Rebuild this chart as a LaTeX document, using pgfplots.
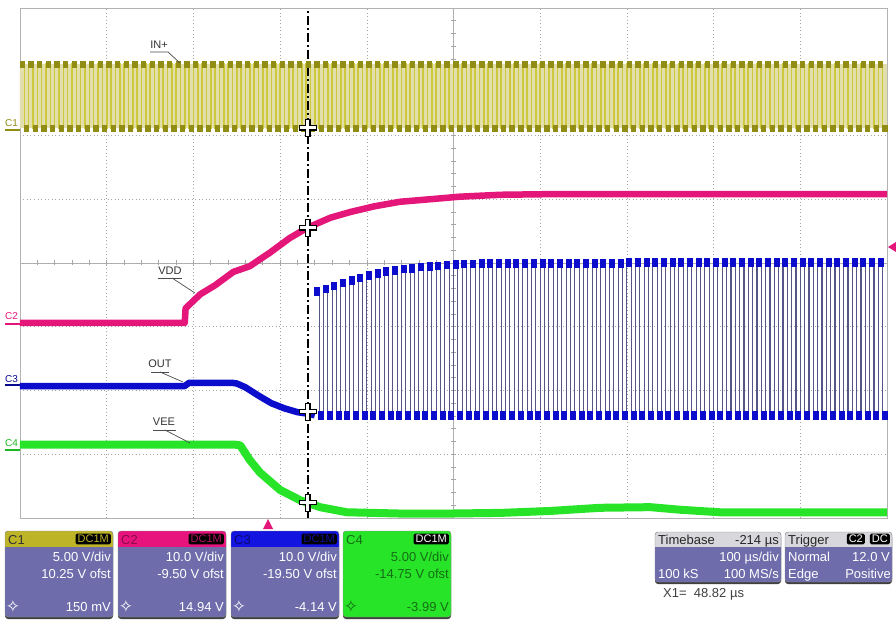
\documentclass[border=0pt]{standalone}
\usepackage{fontspec}
\setmainfont{Liberation Sans}
\newfontfamily\symfont{DejaVu Sans}
\usepackage{pgfplots}
\pgfplotsset{compat=1.18}
\usepackage{pgfplotstable}

\definecolor{c1y}{RGB}{205,200,60}
\definecolor{c1d}{RGB}{145,140,20}
\definecolor{c1band}{RGB}{226,223,172}
\definecolor{c2m}{RGB}{228,22,122}
\definecolor{c3b}{RGB}{12,12,205}
\definecolor{c3e}{RGB}{85,85,135}
\definecolor{c4g}{RGB}{40,228,40}
\definecolor{c4d}{RGB}{20,110,20}
\definecolor{panel}{RGB}{110,108,170}
\definecolor{hdrCa}{RGB}{190,180,40}
\definecolor{hdrCb}{RGB}{232,20,125}
\definecolor{hdrCc}{RGB}{20,20,225}
\definecolor{hdrgray}{RGB}{215,215,220}

\newcommand{\pf}{\fontsize{13}{15}\selectfont}
\newcommand{\lf}{\fontsize{11}{13}\selectfont}

% IN+ (C1), divisions
\pgfplotstableread[row sep=\\]{
x y\\
0 3.12\\ 0.05 2.12\\ 0.1 3.12\\ 0.15 2.12\\ 0.2 3.12\\ 0.25 2.12\\ 0.3 3.12\\ 0.35 2.12\\ 0.4 3.12\\ 0.45 2.12\\
0.5 3.12\\ 0.55 2.12\\ 0.6 3.12\\ 0.65 2.12\\ 0.7 3.12\\ 0.75 2.12\\ 0.8 3.12\\ 0.85 2.12\\ 0.9 3.12\\ 0.95 2.12\\
1.0 3.12\\ 1.05 2.12\\ 1.1 3.12\\ 1.15 2.12\\ 1.2 3.12\\ 1.25 2.12\\ 1.3 3.12\\ 1.35 2.12\\ 1.4 3.12\\ 1.45 2.12\\
1.5 3.12\\ 1.55 2.12\\ 1.6 3.12\\ 1.65 2.12\\ 1.7 3.12\\ 1.75 2.12\\ 1.8 3.12\\ 1.85 2.12\\ 1.9 3.12\\ 1.95 2.12\\
2.0 3.12\\ 2.05 2.12\\ 2.1 3.12\\ 2.15 2.12\\ 2.2 3.12\\ 2.25 2.12\\ 2.3 3.12\\ 2.35 2.12\\ 2.4 3.12\\ 2.45 2.12\\
2.5 3.12\\ 2.55 2.12\\ 2.6 3.12\\ 2.65 2.12\\ 2.7 3.12\\ 2.75 2.12\\ 2.8 3.12\\ 2.85 2.12\\ 2.9 3.12\\ 2.95 2.12\\
3.0 3.12\\ 3.05 2.12\\ 3.1 3.12\\ 3.15 2.12\\ 3.2 3.12\\ 3.25 2.12\\ 3.3 3.12\\ 3.35 2.12\\ 3.4 3.12\\ 3.45 2.12\\
3.5 3.12\\ 3.55 2.12\\ 3.6 3.12\\ 3.65 2.12\\ 3.7 3.12\\ 3.75 2.12\\ 3.8 3.12\\ 3.85 2.12\\ 3.9 3.12\\ 3.95 2.12\\
4.0 3.12\\ 4.05 2.12\\ 4.1 3.12\\ 4.15 2.12\\ 4.2 3.12\\ 4.25 2.12\\ 4.3 3.12\\ 4.35 2.12\\ 4.4 3.12\\ 4.45 2.12\\
4.5 3.12\\ 4.55 2.12\\ 4.6 3.12\\ 4.65 2.12\\ 4.7 3.12\\ 4.75 2.12\\ 4.8 3.12\\ 4.85 2.12\\ 4.9 3.12\\ 4.95 2.12\\
5.0 3.12\\ 5.05 2.12\\ 5.1 3.12\\ 5.15 2.12\\ 5.2 3.12\\ 5.25 2.12\\ 5.3 3.12\\ 5.35 2.12\\ 5.4 3.12\\ 5.45 2.12\\
5.5 3.12\\ 5.55 2.12\\ 5.6 3.12\\ 5.65 2.12\\ 5.7 3.12\\ 5.75 2.12\\ 5.8 3.12\\ 5.85 2.12\\ 5.9 3.12\\ 5.95 2.12\\
6.0 3.12\\ 6.05 2.12\\ 6.1 3.12\\ 6.15 2.12\\ 6.2 3.12\\ 6.25 2.12\\ 6.3 3.12\\ 6.35 2.12\\ 6.4 3.12\\ 6.45 2.12\\
6.5 3.12\\ 6.55 2.12\\ 6.6 3.12\\ 6.65 2.12\\ 6.7 3.12\\ 6.75 2.12\\ 6.8 3.12\\ 6.85 2.12\\ 6.9 3.12\\ 6.95 2.12\\
7.0 3.12\\ 7.05 2.12\\ 7.1 3.12\\ 7.15 2.12\\ 7.2 3.12\\ 7.25 2.12\\ 7.3 3.12\\ 7.35 2.12\\ 7.4 3.12\\ 7.45 2.12\\
7.5 3.12\\ 7.55 2.12\\ 7.6 3.12\\ 7.65 2.12\\ 7.7 3.12\\ 7.75 2.12\\ 7.8 3.12\\ 7.85 2.12\\ 7.9 3.12\\ 7.95 2.12\\
8.0 3.12\\ 8.05 2.12\\ 8.1 3.12\\ 8.15 2.12\\ 8.2 3.12\\ 8.25 2.12\\ 8.3 3.12\\ 8.35 2.12\\ 8.4 3.12\\ 8.45 2.12\\
8.5 3.12\\ 8.55 2.12\\ 8.6 3.12\\ 8.65 2.12\\ 8.7 3.12\\ 8.75 2.12\\ 8.8 3.12\\ 8.85 2.12\\ 8.9 3.12\\ 8.95 2.12\\
9.0 3.12\\ 9.05 2.12\\ 9.1 3.12\\ 9.15 2.12\\ 9.2 3.12\\ 9.25 2.12\\ 9.3 3.12\\ 9.35 2.12\\ 9.4 3.12\\ 9.45 2.12\\
9.5 3.12\\ 9.55 2.12\\ 9.6 3.12\\ 9.65 2.12\\ 9.7 3.12\\ 9.75 2.12\\ 9.8 3.12\\ 9.85 2.12\\ 9.9 3.12\\ 9.95 2.12\\
}\inplus

% OUT (C3) switching part
\pgfplotstableread[row sep=\\]{
x y\\
3.4 -0.44\\ 3.45 -2.39\\ 3.5 -0.40\\ 3.55 -2.39\\ 3.6 -0.36\\ 3.65 -2.39\\ 3.7 -0.31\\ 3.75 -2.39\\ 3.8 -0.27\\ 3.85 -2.39\\
3.9 -0.23\\ 3.95 -2.39\\ 4.0 -0.19\\ 4.05 -2.39\\ 4.1 -0.16\\ 4.15 -2.39\\ 4.2 -0.13\\ 4.25 -2.39\\ 4.3 -0.11\\ 4.35 -2.39\\
4.4 -0.09\\ 4.45 -2.39\\ 4.5 -0.08\\ 4.55 -2.39\\ 4.6 -0.06\\ 4.65 -2.39\\ 4.7 -0.05\\ 4.75 -2.39\\ 4.8 -0.04\\ 4.85 -2.39\\
4.9 -0.03\\ 4.95 -2.39\\ 5.0 -0.02\\ 5.05 -2.39\\ 5.1 -0.01\\ 5.15 -2.39\\ 5.2 -0.01\\ 5.25 -2.39\\ 5.3 0\\ 5.35 -2.39\\
5.4 0\\ 5.45 -2.39\\ 5.5 0\\ 5.55 -2.39\\ 5.6 0\\ 5.65 -2.39\\ 5.7 0\\ 5.75 -2.39\\ 5.8 0\\ 5.85 -2.39\\
5.9 0\\ 5.95 -2.39\\ 6.0 0\\ 6.05 -2.39\\ 6.1 0\\ 6.15 -2.39\\ 6.2 0\\ 6.25 -2.39\\ 6.3 0\\ 6.35 -2.39\\
6.4 0\\ 6.45 -2.39\\ 6.5 0\\ 6.55 -2.39\\ 6.6 0\\ 6.65 -2.39\\ 6.7 0\\ 6.75 -2.39\\ 6.8 0\\ 6.85 -2.39\\
6.9 0\\ 6.95 -2.39\\ 7.0 0.01\\ 7.05 -2.39\\ 7.1 0.01\\ 7.15 -2.39\\ 7.2 0.01\\ 7.25 -2.39\\ 7.3 0.01\\ 7.35 -2.39\\
7.4 0.01\\ 7.45 -2.39\\ 7.5 0.01\\ 7.55 -2.39\\ 7.6 0.01\\ 7.65 -2.39\\ 7.7 0.01\\ 7.75 -2.39\\ 7.8 0.01\\ 7.85 -2.39\\
7.9 0.01\\ 7.95 -2.39\\ 8.0 0.01\\ 8.05 -2.39\\ 8.1 0.01\\ 8.15 -2.39\\ 8.2 0.01\\ 8.25 -2.39\\ 8.3 0.01\\ 8.35 -2.39\\
8.4 0.01\\ 8.45 -2.39\\ 8.5 0.01\\ 8.55 -2.39\\ 8.6 0.01\\ 8.65 -2.39\\ 8.7 0.01\\ 8.75 -2.39\\ 8.8 0.01\\ 8.85 -2.39\\
8.9 0.01\\ 8.95 -2.39\\ 9.0 0.01\\ 9.05 -2.39\\ 9.1 0.01\\ 9.15 -2.39\\ 9.2 0.01\\ 9.25 -2.39\\ 9.3 0.01\\ 9.35 -2.39\\
9.4 0.01\\ 9.45 -2.39\\ 9.5 0.01\\ 9.55 -2.39\\ 9.6 0.01\\ 9.65 -2.39\\ 9.7 0.01\\ 9.75 -2.39\\ 9.8 0.01\\ 9.85 -2.39\\
9.9 0.01\\ 9.95 -2.39\\
}\outsw

\newcommand{\chpanel}[9]{%
\begin{scope}[shift={(#1,0)}]
 \fill[black!75, rounded corners=3pt] (0,5) rectangle (108,91);
 \fill[#2, rounded corners=3pt] (0,7) rectangle (108,93);
 \begin{scope}
  \clip[rounded corners=3pt] (0,7) rectangle (108,93);
  \fill[#3] (0,77) rectangle (108,93);
 \end{scope}
 \draw[black!45, rounded corners=3pt] (0,7) rectangle (108,93);
 \node[anchor=base west, inner sep=0pt, font=\pf] at (3,80) {#5};
 \node[anchor=east, fill=black, rounded corners=1.5pt, inner xsep=2pt, inner ysep=1.5pt, text=#6, font=\fontsize{11}{12}\selectfont] at (106,85) {DC1M};
 \node[anchor=base east, inner sep=0pt, text=#4, font=\pf] at (106,63) {#7};
 \node[anchor=base east, inner sep=0pt, text=#4, font=\pf] at (106,46) {#8};
 \node[anchor=base east, inner sep=0pt, text=#4, font=\pf] at (106,13) {#9};
 \node[inner sep=0pt, text=#4, font=\symfont\fontsize{17}{17}\selectfont] at (8,18) {✧};
\end{scope}}

\begin{document}
\begin{tikzpicture}
\useasboundingbox (0,0) rectangle (896pt,624pt);
\fill[white] (0,0) rectangle (896pt,624pt);

% centre lines with small ticks
\begin{scope}[x=1pt,y=1pt]
 \draw[black!30, line width=0.6pt] (453.5,106) -- (453.5,616);
 \draw[black!30, line width=0.6pt] (20,361) -- (887,361);
 \foreach \i in {1,...,49} \draw[black!35, line width=0.6pt] ({20+\i*17.34},358.5) -- ++(0,5);
 \foreach \i in {1,...,39} \draw[black!35, line width=0.6pt] (451,{106+\i*12.75}) -- ++(5,0);
\end{scope}

\begin{axis}[
  at={(20pt,106pt)}, anchor=south west,
  width=867pt, height=510pt, scale only axis,
  xmin=0, xmax=10, ymin=-4, ymax=4,
  xtick={1,...,9}, ytick={-3,...,3},
  xticklabels={}, yticklabels={},
  major tick length=0pt,
  grid=major,
  major grid style={draw=black!35, line width=0.6pt, dash pattern=on 1pt off 2.5pt},
  axis line style={draw=black!30, line width=0.8pt},
  clip=false,
]
% C1 IN+
\addplot[draw=none, fill=c1band, forget plot] coordinates {(0,2.12) (10,2.12) (10,3.12) (0,3.12) (0,2.12)};
\addplot[const plot, c1y, line width=1.6pt] table {\inplus};
\addplot[only marks, mark=square*, mark size=2.2pt, c1d, mark options={xshift=2pt, yscale=1.3}] table {\inplus};

% C2 VDD
\addplot[c2m, line width=6.5pt, line join=round] coordinates {
 (0,-0.94) (1.90,-0.94) (1.91,-0.71) (2.08,-0.49) (2.25,-0.35) (2.46,-0.14) (2.65,-0.05)
 (2.88,0.16) (3.11,0.39) (3.31,0.55) (3.58,0.71) (3.81,0.80) (4.09,0.89) (4.38,0.96)
 (4.73,1.00) (5.07,1.04) (5.54,1.07) (6.11,1.08) (10,1.08)};

% C3 OUT analog part
\addplot[c3b, line width=6.5pt, line join=round] coordinates {
 (0,-1.93) (1.90,-1.93) (1.95,-1.88) (2.45,-1.88) (2.50,-1.89) (2.60,-1.95) (2.75,-2.08)
 (2.90,-2.20) (3.05,-2.28) (3.20,-2.34) (3.35,-2.37) (3.40,-2.39)};
% C3 OUT switching
\addplot[const plot, c3e, line width=1.1pt] table {\outsw};
\addplot[only marks, mark=square*, mark size=2.5pt, c3b, mark options={xshift=2pt, yscale=1.5}] table {\outsw};

% C4 VEE
\addplot[c4g, line width=8pt, line join=round] coordinates {
 (0,-2.85) (2.48,-2.85) (2.54,-2.86) (2.65,-3.09) (2.77,-3.29) (3.00,-3.56) (3.23,-3.72)
 (3.46,-3.83) (3.77,-3.91) (4.38,-3.93) (4.96,-3.93) (5.54,-3.92) (6.11,-3.89)
 (6.69,-3.84) (7.27,-3.83) (7.61,-3.87) (8.07,-3.91) (10,-3.91)};

% cursor X1
\addplot[black, line width=1.4pt, dash pattern=on 9pt off 3pt on 2pt off 3pt] coordinates {(3.32,-4) (3.32,4)};
\addplot[only marks, mark=+, mark size=9pt, mark options={line width=5.5pt, black}] coordinates {(3.32,2.12) (3.32,0.55) (3.32,-2.33) (3.32,-3.76)};
\addplot[only marks, mark=+, mark size=8pt, mark options={line width=3pt, white}] coordinates {(3.32,2.12) (3.32,0.55) (3.32,-2.33) (3.32,-3.76)};
\end{axis}

\begin{scope}[x=1pt,y=1pt]
% trace labels
\node[font=\lf, text=black!80, inner sep=0pt] at (159,579) {IN+};
\draw[black!70, line width=0.7pt] (150,572) -- (168,572) -- (180,561);
\node[font=\lf, text=black!80, inner sep=0pt] at (170,353) {VDD};
\draw[black!70, line width=0.7pt] (158,346) -- (182,346);
\draw[black!70, line width=0.7pt] (172,346) -- (195,331);
\node[font=\lf, text=black!80, inner sep=0pt] at (160,260) {OUT};
\draw[black!70, line width=0.7pt] (151,252) -- (169,252);
\draw[black!70, line width=0.7pt] (160,252) -- (183,242);
\node[font=\lf, text=black!80, inner sep=0pt] at (164,202) {VEE};
\draw[black!70, line width=0.7pt] (153,194) -- (176,194);
\draw[black!70, line width=0.7pt] (165,194) -- (190,181);

% channel markers
\node[font=\fontsize{10}{11}\selectfont, text=c1d, inner sep=0pt] at (11.5,500.5) {C1};
\draw[c1d, line width=1.2pt] (5,494) -- (20,494);
\node[font=\fontsize{10}{11}\selectfont, text=c2m, inner sep=0pt] at (11.5,308) {C2};
\draw[c2m, line width=1.2pt] (5,300) -- (20,300);
\node[font=\fontsize{10}{11}\selectfont, text=c3b!70!black, inner sep=0pt] at (11.5,245) {C3};
\draw[c3b!70!black, line width=1.2pt] (5,239) -- (20,239);
\node[font=\fontsize{10}{11}\selectfont, text=c4g!80!black, inner sep=0pt] at (11.5,180.5) {C4};
\draw[c4g!80!black, line width=1.2pt] (5,174) -- (20,174);

% trigger markers
\fill[c2m] (888,377) -- (896,382) -- (896,372) -- cycle;
\fill[c2m] (268,105) -- (263,95) -- (273,95) -- cycle;

% channel panels
\chpanel{5}{panel}{hdrCa}{white}{\textcolor{black!80}{C1}}{hdrCa}{5.00 V/div}{10.25 V ofst}{150 mV}
\chpanel{118}{panel}{hdrCb}{white}{\textcolor{hdrCb!60!black}{C2}}{hdrCb!80!black}{10.0 V/div}{-9.50 V ofst}{14.94 V}
\chpanel{231}{panel}{hdrCc}{white}{\textcolor{hdrCc!50!black}{C3}}{hdrCc!70!black}{10.0 V/div}{-19.50 V ofst}{-4.14 V}
\chpanel{343}{c4g}{c4g}{c4d}{\textcolor{c4d}{C4}}{white}{5.00 V/div}{-14.75 V ofst}{-3.99 V}

% timebase box
\fill[black!75, rounded corners=3pt] (655,40) rectangle (781,90);
\fill[panel, rounded corners=3pt] (655,42) rectangle (781,92);
\begin{scope}
 \clip[rounded corners=3pt] (655,42) rectangle (781,92);
 \fill[hdrgray] (655,77) rectangle (781,92);
\end{scope}
\draw[black!45, rounded corners=3pt] (655,42) rectangle (781,92);
\node[anchor=base west, inner sep=0pt, font=\pf, text=black!85] at (658,80) {Timebase};
\node[anchor=base east, inner sep=0pt, font=\pf, text=black!85] at (779,80) {-214 µs};
\node[anchor=base east, inner sep=0pt, font=\pf, text=white] at (779,63) {100 µs/div};
\node[anchor=base west, inner sep=0pt, font=\pf, text=white] at (658,46) {100 kS};
\node[anchor=base east, inner sep=0pt, font=\pf, text=white] at (779,46) {100 MS/s};

% trigger box
\fill[black!75, rounded corners=3pt] (785,40) rectangle (892,90);
\fill[panel, rounded corners=3pt] (785,42) rectangle (892,92);
\begin{scope}
 \clip[rounded corners=3pt] (785,42) rectangle (892,92);
 \fill[hdrgray] (785,77) rectangle (892,92);
\end{scope}
\draw[black!45, rounded corners=3pt] (785,42) rectangle (892,92);
\node[anchor=base west, inner sep=0pt, font=\pf, text=black!85] at (788,80) {Trigger};
\node[anchor=east, fill=black, rounded corners=1.5pt, inner xsep=2pt, inner ysep=1.5pt, text=white, font=\fontsize{11}{12}\selectfont] at (890,85) {DC};
\node[anchor=east, fill=black, rounded corners=1.5pt, inner xsep=2pt, inner ysep=1.5pt, text=white, font=\fontsize{11}{12}\selectfont] at (865,85) {C2};
\node[anchor=base west, inner sep=0pt, font=\pf, text=white] at (788,63) {Normal};
\node[anchor=base east, inner sep=0pt, font=\pf, text=white] at (890,63) {12.0 V};
\node[anchor=base west, inner sep=0pt, font=\pf, text=white] at (788,46) {Edge};
\node[anchor=base east, inner sep=0pt, font=\pf, text=white] at (891,46) {Positive};

\node[anchor=base west, inner sep=0pt, font=\pf, text=black!75] at (663,27) {X1=\ \ 48.82 µs};
\end{scope}
\end{tikzpicture}
\end{document}
